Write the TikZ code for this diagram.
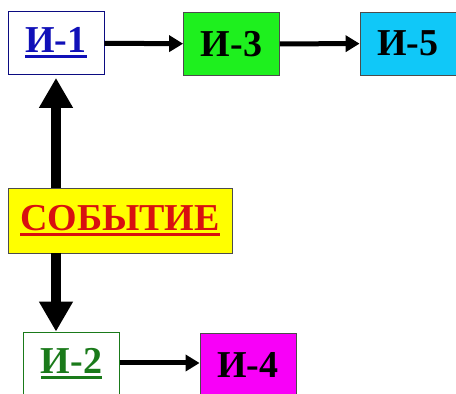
\documentclass[tikz,border=0pt]{standalone}
\usepackage{fontspec}
\setmainfont{Liberation Serif}[BoldFont={Liberation Serif Bold}]
\usetikzlibrary{arrows.meta}
\definecolor{boxgreen}{HTML}{1EF01E}
\definecolor{boxcyan}{HTML}{10C8F8}
\definecolor{boxmag}{HTML}{F800F8}
\definecolor{boxyel}{HTML}{FFFF00}
\definecolor{txtblue}{HTML}{1010B8}
\definecolor{txtgreen}{HTML}{1A7A1A}
\definecolor{txtred}{HTML}{D81010}
\newcommand{\ulbox}[1]{\setbox0=\hbox{#1}\vtop{\copy0\kern2.5pt\hrule height 3pt}}
\tikzset{
  ibox/.style={draw=black!70,line width=0.8pt,minimum width=96pt,minimum height=63pt,inner sep=0pt,
    font=\fontsize{38}{40}\selectfont\bfseries},
  thin arrow/.style={line width=5pt,-{Triangle[length=14pt,width=16pt]}},
  fat arrow/.style={line width=10pt,-{Triangle[length=30pt,width=32pt]}}
}
\begin{document}
\begin{tikzpicture}[x=1pt,y=1pt]
\useasboundingbox (0,0) rectangle (456,394);
\clip (0,0) rectangle (456,394);
\fill[white] (0,0) rectangle (456,394);
\node[ibox,draw=txtblue!70!black,fill=white,text=txtblue] (i1) at (56,351) {\ulbox{И-1}};
\node[ibox,fill=boxgreen] (i3) at (231.5,350) {И-3};
\node[ibox,fill=boxcyan] (i5) at (408,350.5) {И-5};
\node[ibox,fill=boxyel,text=txtred,minimum width=224pt,minimum height=65pt] (sob) at (120,173.5) {\ulbox{СОБЫТИЕ}};
\node[ibox,draw=txtgreen,fill=white,text=txtgreen,minimum height=64pt] (i2) at (71.5,30) {\ulbox{И-2}};
\node[ibox,fill=boxmag,minimum height=64pt] (i4) at (248,29) {И-4};
\draw[thin arrow] (i1) -- (i3);
\draw[thin arrow] (i3) -- (i5);
\draw[thin arrow] (i2.east |- 0,31) -- (i4.west |- 0,31);
\draw[fat arrow] (sob.north -| i1.south) -- ([yshift=-3pt]i1.south);
\draw[fat arrow] (sob.south -| i1.south) -- (i2.north -| i1.south);
\end{tikzpicture}
\end{document}
